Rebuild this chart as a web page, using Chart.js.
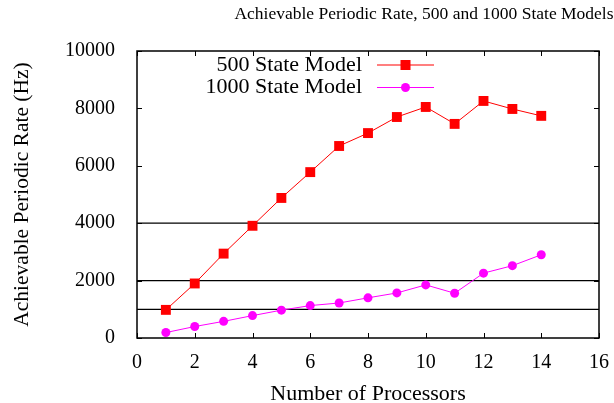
<!DOCTYPE html>
<html>
<head>
<meta charset="utf-8">
<script src="https://cdn.jsdelivr.net/npm/chart.js@4.4.1/dist/chart.umd.min.js"></script>
<style>
  body { margin: 0; background: #fff; }
</style>
</head>
<body>
<canvas id="rateChart" width="614" height="403"></canvas>
<script>
// chart data
const processors = [1, 2, 3, 4, 5, 6, 7, 8, 9, 10, 11, 12, 13, 14];
const rate500 = [980, 1900, 2940, 3910, 4880, 5780, 6690, 7140, 7700, 8050, 7460, 8260, 7980, 7740];
const rate1000 = [190, 400, 580, 780, 970, 1130, 1220, 1400, 1570, 1850, 1560, 2260, 2520, 2900];
const refLevels = [1000, 2000, 4000];
const xTicks = [0, 2, 4, 6, 8, 10, 12, 14, 16];
const yTicks = [0, 2000, 4000, 6000, 8000, 10000];

const serif = "'Liberation Serif', 'Times New Roman', serif";

function toPoints(xs, ys) {
    return xs.map((x, i) => ({ x: x, y: ys[i] }));
}

const refSets = refLevels.map(v => ({
    label: 'ref' + v,
    data: [{ x: xTicks[0], y: v }, { x: xTicks[xTicks.length - 1], y: v }],
    borderColor: '#000',
    borderWidth: 1.3,
    pointRadius: 0,
    order: 10,
    isRef: true
}));

// frame, inward ticks, title and gnuplot-like legend
const decor = {
    id: 'decor',
    afterDraw(chart) {
        const ctx = chart.ctx;
        const a = chart.chartArea;
        const xs = chart.scales.x, ys = chart.scales.y;
        ctx.save();
        ctx.strokeStyle = '#000';
        ctx.lineWidth = 1.5;
        ctx.strokeRect(a.left, a.top, a.right - a.left, a.bottom - a.top);
        ctx.lineWidth = 1;
        ctx.beginPath();
        xTicks.forEach(t => {
            const px = Math.round(xs.getPixelForValue(t)) + 0.5;
            ctx.moveTo(px, a.bottom); ctx.lineTo(px, a.bottom - 5);
            ctx.moveTo(px, a.top); ctx.lineTo(px, a.top + 5);
        });
        yTicks.forEach(t => {
            const py = Math.round(ys.getPixelForValue(t)) + 0.5;
            ctx.moveTo(a.left, py); ctx.lineTo(a.left + 5, py);
            ctx.moveTo(a.right, py); ctx.lineTo(a.right - 5, py);
        });
        ctx.stroke();

        // title
        ctx.fillStyle = '#000';
        ctx.font = '17.5px ' + serif;
        ctx.textAlign = 'center';
        ctx.textBaseline = 'middle';
        ctx.fillText('Achievable Periodic Rate, 500 and 1000 State Models', 424, 14);

        // legend
        ctx.font = '22px ' + serif;
        ctx.textAlign = 'right';
        const rows = chart.data.datasets.filter(d => !d.isRef);
        rows.forEach((d, i) => {
            const y = 65 + i * 22.5;
            ctx.fillStyle = '#000';
            ctx.fillText(d.label, 362, y);
            ctx.strokeStyle = d.borderColor;
            ctx.lineWidth = 1.2;
            ctx.beginPath();
            ctx.moveTo(377, y); ctx.lineTo(434, y);
            ctx.stroke();
            ctx.fillStyle = d.pointBackgroundColor;
            if (d.pointStyle === 'rect') {
                ctx.fillRect(400.5, y - 5, 10, 10);
            } else {
                ctx.beginPath();
                ctx.arc(405.5, y, d.pointRadius, 0, Math.PI * 2);
                ctx.fill();
            }
        });
        ctx.restore();
    }
};

new Chart(document.getElementById('rateChart'), {
    type: 'line',
    data: {
        datasets: [{
            label: '500 State Model',
            data: toPoints(processors, rate500),
            borderColor: '#ff0000',
            pointBackgroundColor: '#ff0000',
            pointBorderWidth: 0,
            pointStyle: 'rect',
            pointRadius: 7,
            borderWidth: 1,
            order: 1
        }, {
            label: '1000 State Model',
            data: toPoints(processors, rate1000),
            borderColor: '#ff00ff',
            pointBackgroundColor: '#ff00ff',
            pointBorderWidth: 0,
            pointStyle: 'circle',
            pointRadius: 4.5,
            borderWidth: 1,
            order: 2
        }].concat(refSets)
    },
    options: {
        responsive: false,
        animation: false,
        layout: { padding: { top: 51, right: 14, left: 0, bottom: 0 } },
        plugins: {
            legend: { display: false },
            tooltip: { enabled: false }
        },
        scales: {
            x: {
                type: 'linear',
                min: 0,
                max: 16,
                afterFit: s => { s.height = 65; },
                afterBuildTicks: s => { s.ticks = xTicks.map(v => ({ value: v })); },
                grid: { display: false },
                border: { display: false },
                ticks: { color: '#000', padding: 5, font: { family: serif, size: 20 }, callback: v => String(v) },
                title: {
                    display: true,
                    text: 'Number of Processors',
                    color: '#000',
                    padding: { top: 0, bottom: -2 },
                    font: { family: serif, size: 22, lineHeight: 1 }
                }
            },
            y: {
                min: 0,
                max: 10000,
                afterFit: s => { s.width = 137; },
                afterBuildTicks: s => { s.ticks = yTicks.map(v => ({ value: v })); },
                grid: { display: false },
                border: { display: false },
                ticks: { color: '#000', padding: 14, font: { family: serif, size: 20 }, callback: v => String(v) },
                title: {
                    display: true,
                    text: 'Achievable Periodic Rate (Hz)',
                    color: '#000',
                    padding: { top: 9, bottom: 0 },
                    font: { family: serif, size: 21.5 }
                }
            }
        }
    },
    plugins: [decor]
});
</script>
</body>
</html>
